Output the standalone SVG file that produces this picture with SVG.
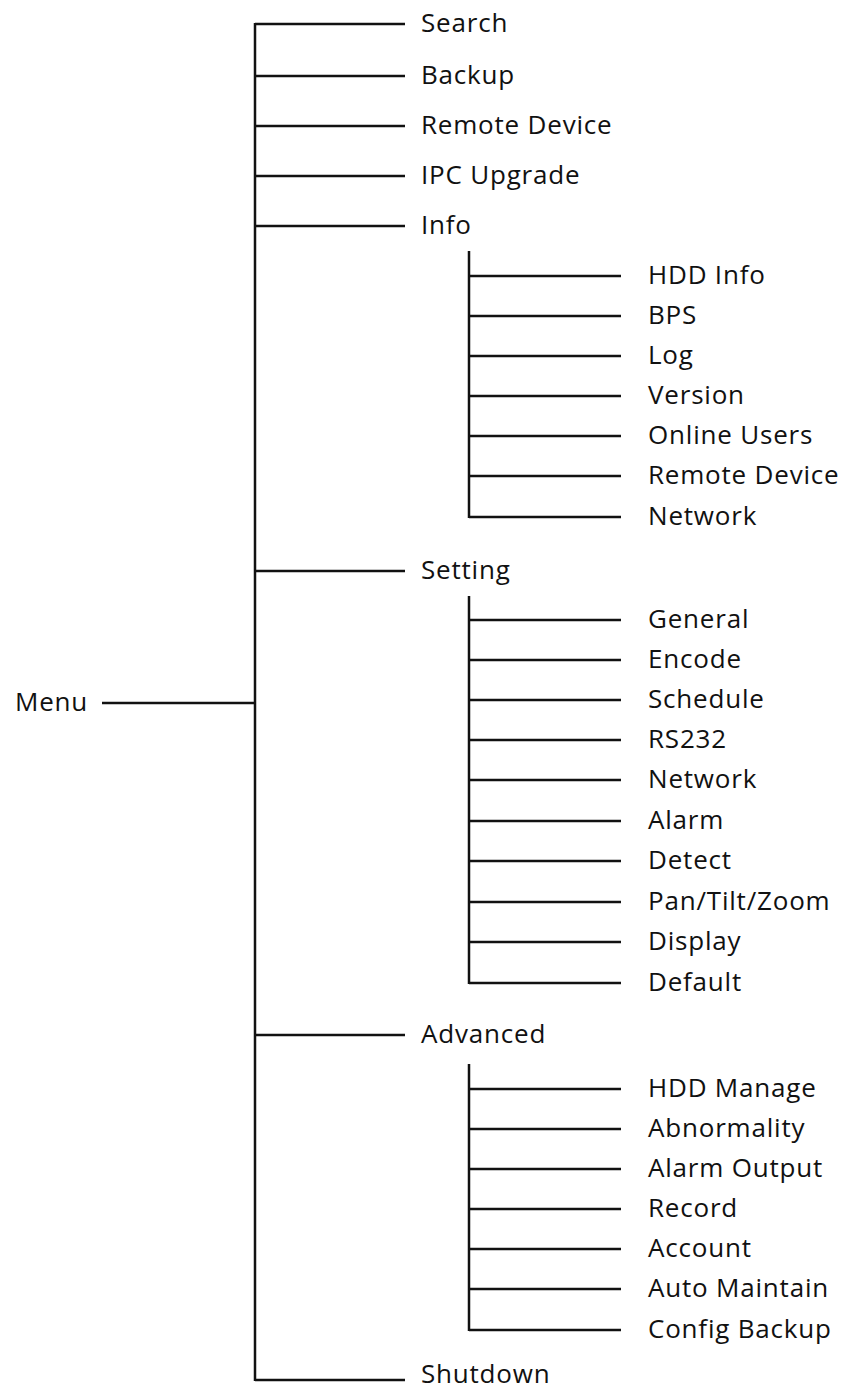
<svg xmlns="http://www.w3.org/2000/svg" width="845" height="1391" viewBox="0 0 845 1391">
<style>
.t{font-family:"Open Sans","Liberation Sans",sans-serif;font-size:26px;letter-spacing:0.8px;fill:#111}
.c line{stroke:#111;stroke-width:2.5;fill:none}
</style>
<rect width="845" height="1391" fill="#fff"/>
<g class="c" id="connectors">
<line x1="102" y1="703" x2="255" y2="703"/>
<line x1="255" y1="23" x2="255" y2="1381"/>
<line x1="255" y1="24" x2="405" y2="24"/>
<line x1="255" y1="76" x2="405" y2="76"/>
<line x1="255" y1="126" x2="405" y2="126"/>
<line x1="255" y1="176" x2="405" y2="176"/>
<line x1="255" y1="226" x2="405" y2="226"/>
<line x1="255" y1="571" x2="405" y2="571"/>
<line x1="255" y1="1035" x2="405" y2="1035"/>
<line x1="255" y1="1380" x2="405" y2="1380"/>
<line x1="469" y1="251" x2="469" y2="518"/>
<line x1="469" y1="276" x2="621" y2="276"/>
<line x1="469" y1="316" x2="621" y2="316"/>
<line x1="469" y1="356" x2="621" y2="356"/>
<line x1="469" y1="396" x2="621" y2="396"/>
<line x1="469" y1="436" x2="621" y2="436"/>
<line x1="469" y1="476" x2="621" y2="476"/>
<line x1="469" y1="517" x2="621" y2="517"/>
<line x1="469" y1="596" x2="469" y2="984"/>
<line x1="469" y1="620" x2="621" y2="620"/>
<line x1="469" y1="660" x2="621" y2="660"/>
<line x1="469" y1="700" x2="621" y2="700"/>
<line x1="469" y1="740" x2="621" y2="740"/>
<line x1="469" y1="780" x2="621" y2="780"/>
<line x1="469" y1="821" x2="621" y2="821"/>
<line x1="469" y1="861" x2="621" y2="861"/>
<line x1="469" y1="902" x2="621" y2="902"/>
<line x1="469" y1="942" x2="621" y2="942"/>
<line x1="469" y1="983" x2="621" y2="983"/>
<line x1="469" y1="1064" x2="469" y2="1331"/>
<line x1="469" y1="1089" x2="621" y2="1089"/>
<line x1="469" y1="1129" x2="621" y2="1129"/>
<line x1="469" y1="1169" x2="621" y2="1169"/>
<line x1="469" y1="1209" x2="621" y2="1209"/>
<line x1="469" y1="1249" x2="621" y2="1249"/>
<line x1="469" y1="1289" x2="621" y2="1289"/>
<line x1="469" y1="1330" x2="621" y2="1330"/>
</g>
<g id="menu"><text class="t" x="15" y="711">Menu</text></g>
<g id="search"><text class="t" x="421" y="32">Search</text></g>
<g id="backup"><text class="t" x="421" y="84">Backup</text></g>
<g id="remote-device"><text class="t" x="421" y="134">Remote Device</text></g>
<g id="ipc-upgrade"><text class="t" x="421" y="184">IPC Upgrade</text></g>
<g id="info"><text class="t" x="421" y="234">Info</text></g>
<g id="hdd-info"><text class="t" x="648" y="284">HDD Info</text></g>
<g id="bps"><text class="t" x="648" y="324">BPS</text></g>
<g id="log"><text class="t" x="648" y="364">Log</text></g>
<g id="version"><text class="t" x="648" y="404">Version</text></g>
<g id="online-users"><text class="t" x="648" y="444">Online Users</text></g>
<g id="info-remote-device"><text class="t" x="648" y="484">Remote Device</text></g>
<g id="info-network"><text class="t" x="648" y="525">Network</text></g>
<g id="setting"><text class="t" x="421" y="579">Setting</text></g>
<g id="general"><text class="t" x="648" y="628">General</text></g>
<g id="encode"><text class="t" x="648" y="668">Encode</text></g>
<g id="schedule"><text class="t" x="648" y="708">Schedule</text></g>
<g id="rs232"><text class="t" x="648" y="748">RS232</text></g>
<g id="network"><text class="t" x="648" y="788">Network</text></g>
<g id="alarm"><text class="t" x="648" y="829">Alarm</text></g>
<g id="detect"><text class="t" x="648" y="869">Detect</text></g>
<g id="ptz"><text class="t" x="648" y="910">Pan/Tilt/Zoom</text></g>
<g id="display"><text class="t" x="648" y="950">Display</text></g>
<g id="default"><text class="t" x="648" y="991">Default</text></g>
<g id="advanced"><text class="t" x="421" y="1043">Advanced</text></g>
<g id="hdd-manage"><text class="t" x="648" y="1097">HDD Manage</text></g>
<g id="abnormality"><text class="t" x="648" y="1137">Abnormality</text></g>
<g id="alarm-output"><text class="t" x="648" y="1177">Alarm Output</text></g>
<g id="record"><text class="t" x="648" y="1217">Record</text></g>
<g id="account"><text class="t" x="648" y="1257">Account</text></g>
<g id="auto-maintain"><text class="t" x="648" y="1297">Auto Maintain</text></g>
<g id="config-backup"><text class="t" x="648" y="1338">Config Backup</text></g>
<g id="shutdown"><text class="t" x="421" y="1383">Shutdown</text></g>
</svg>
